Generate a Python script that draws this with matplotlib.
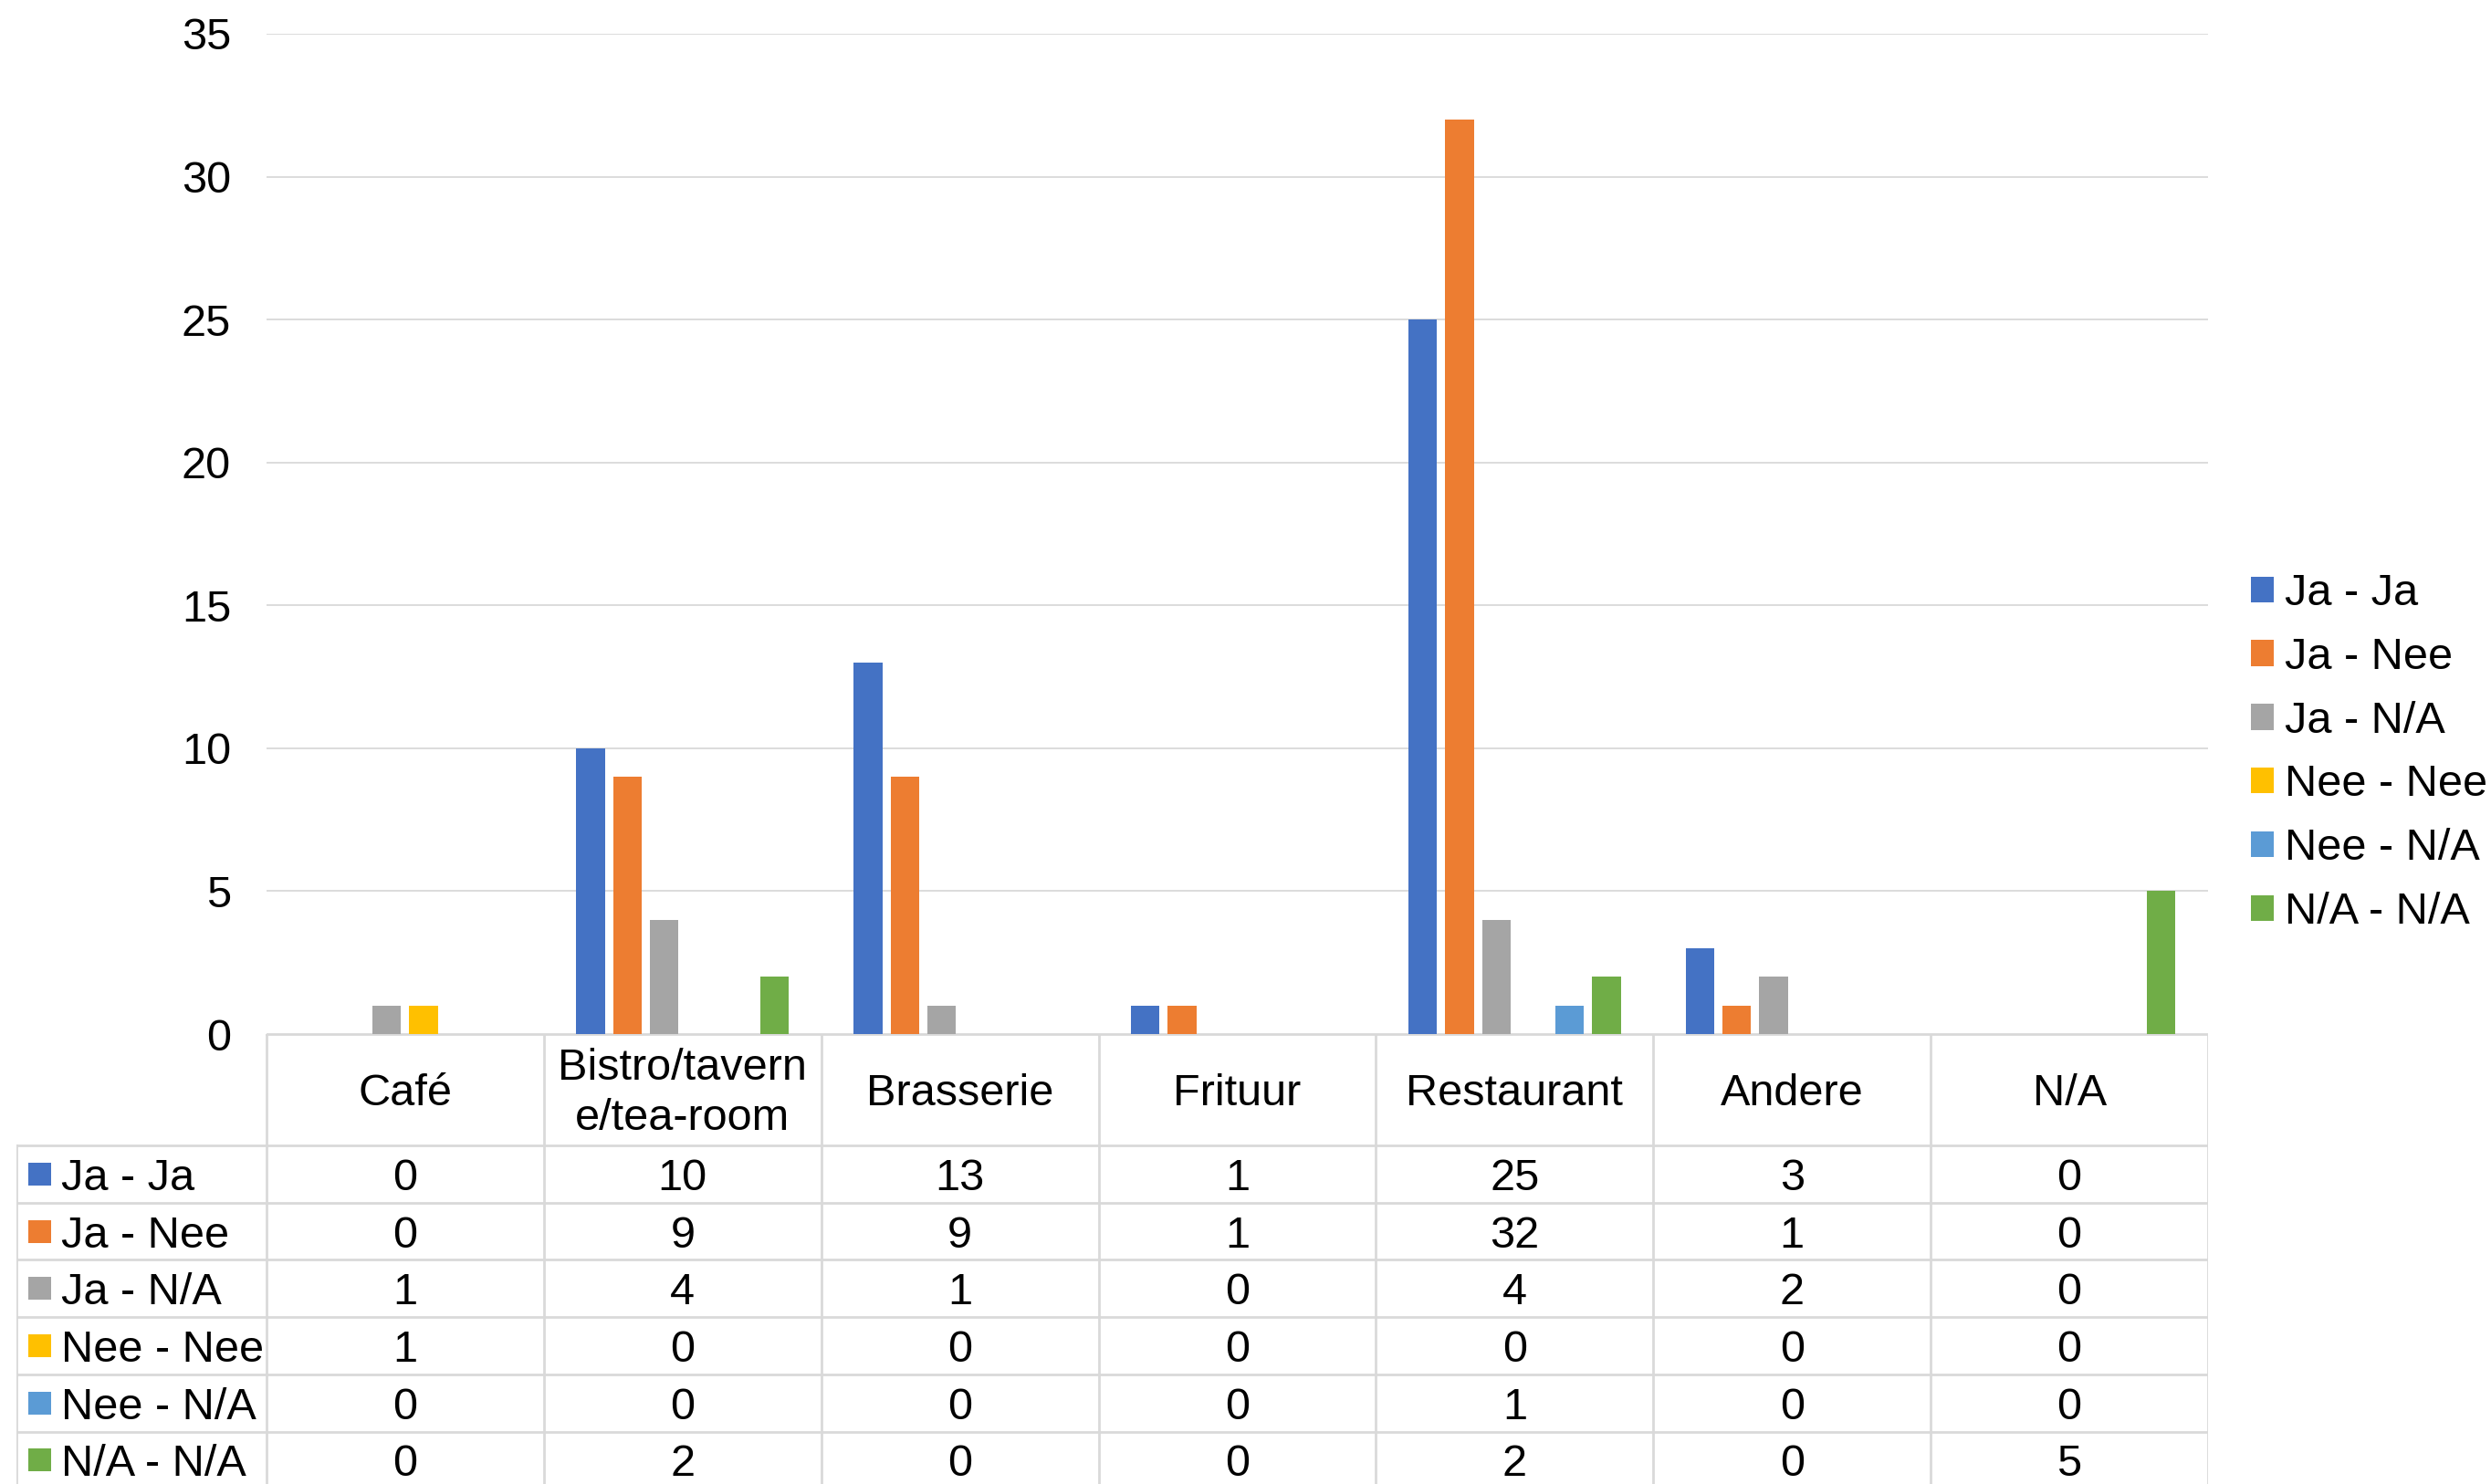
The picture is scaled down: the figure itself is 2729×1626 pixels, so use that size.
import matplotlib
matplotlib.use("Agg")
import matplotlib.pyplot as plt
from matplotlib.patches import Patch
import numpy as np

# === DATA ===
categories = ["Café", "Bistro/tavern\ne/tea-room", "Brasserie", "Frituur", "Restaurant", "Andere", "N/A"]
series_names = ["Ja - Ja", "Ja - Nee", "Ja - N/A", "Nee - Nee", "Nee - N/A", "N/A - N/A"]
ja_ja = [0, 10, 13, 1, 25, 3, 0]
ja_nee = [0, 9, 9, 1, 32, 1, 0]
ja_na = [1, 4, 1, 0, 4, 2, 0]
nee_nee = [1, 0, 0, 0, 0, 0, 0]
nee_na = [0, 0, 0, 0, 1, 0, 0]
na_na = [0, 2, 0, 0, 2, 0, 5]
series_values = [ja_ja, ja_nee, ja_na, nee_nee, nee_na, na_na]
colors = ["#4472C4", "#ED7D31", "#A5A5A5", "#FFC000", "#5B9BD5", "#70AD47"]

# === STYLE ===
plt.rcParams["font.family"] = ["Liberation Sans", "DejaVu Sans"]
FS = 35
GRID = "#d9d9d9"

W, H = 2729, 1626
fig = plt.figure(figsize=(W / 100, H / 100), dpi=100)

# plot area in pixels
left, right, top, zero_y = 292, 2419, 37, 1133
ax = fig.add_axes([left / W, 1 - zero_y / H, (right - left) / W, (zero_y - top) / H])

x = np.arange(len(categories))
bar_w = 0.103
pitch = 0.1326
n = len(series_values)
for i, (vals, c) in enumerate(zip(series_values, colors)):
    offs = (i - (n - 1) / 2) * pitch
    ax.bar(x + offs, vals, width=bar_w, color=c, zorder=3)

ax.set_xlim(-0.5, len(categories) - 0.5)
ax.set_ylim(0, 35)
ax.set_yticks(range(0, 36, 5))
ax.tick_params(axis="y", length=0, pad=28, labelsize=FS)
ax.set_xticks([])
for s in ax.spines.values():
    s.set_visible(False)
ax.grid(axis="y", color=GRID, linewidth=1.3, zorder=0)

# legend on the right
handles = [Patch(facecolor=c, edgecolor="none") for c in colors]
fig.legend(handles, series_names, loc="center left", bbox_to_anchor=(2466 / W, 1 - 825 / H),
           frameon=False, fontsize=FS, handlelength=0.52, handleheight=0.52,
           handletextpad=0.25, labelspacing=0.51, borderpad=0, borderaxespad=0)

# === DATA TABLE ===
tab_left = 18
lab_w = (left - tab_left) / ((right - left) / len(categories))
axt = fig.add_axes([tab_left / W, 0, (right - tab_left) / W, (H - zero_y) / H])
axt.set_xlim(-0.5 - lab_w, len(categories) - 0.5)
axt.set_ylim(H - zero_y, 0)
axt.axis("off")

header_h = 122
row_h = 62.7
tab_bottom = header_h + row_h * n
lw = 2.0

# header borders (only over category columns)
axt.plot([-0.5, len(categories) - 0.5], [0, 0], color=GRID, lw=lw)
for j in range(len(categories) + 1):
    axt.plot([j - 0.5, j - 0.5], [0, tab_bottom], color=GRID, lw=lw)
# row borders
for r in range(n + 1):
    yy = header_h + r * row_h
    axt.plot([-0.5 - lab_w, len(categories) - 0.5], [yy, yy], color=GRID, lw=lw)
axt.plot([-0.5 - lab_w, -0.5 - lab_w], [header_h, tab_bottom], color=GRID, lw=lw)

for j, cat in enumerate(categories):
    axt.text(j, header_h / 2 + 4, cat, ha="center", va="center", fontsize=FS, linespacing=1.28)

sq = 25 / 304  # marker size in category units
for r, (name, vals, c) in enumerate(zip(series_names, series_values, colors)):
    yc = header_h + (r + 0.5) * row_h
    x0 = -0.5 - lab_w + 13 / 304
    axt.add_patch(plt.Rectangle((x0, yc - 12.5), sq, 25, facecolor=c, edgecolor="none"))
    axt.text(x0 + sq + 11 / 304, yc, name, ha="left", va="center_baseline", fontsize=FS)
    for j, v in enumerate(vals):
        axt.text(j, yc, str(v), ha="center", va="center_baseline", fontsize=FS)

fig.savefig("out.png", dpi=100)
